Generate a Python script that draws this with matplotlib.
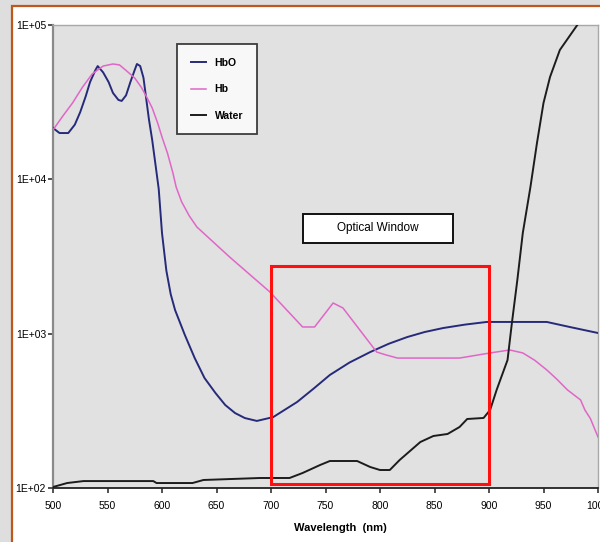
import matplotlib
matplotlib.use("Agg")
import matplotlib.pyplot as plt
from matplotlib.patches import Rectangle
from matplotlib.ticker import FixedLocator, FixedFormatter, NullLocator
import matplotlib.transforms as mtransforms

# ---------------- data ----------------
hbo_nm = [500, 506, 514, 520, 525, 530, 534, 539, 541, 546, 551, 555, 560, 563,
          567, 571, 575, 577, 580, 583, 585, 588, 591, 594, 597, 600, 604, 608,
          612, 621, 630, 639, 649, 658, 667, 676, 687, 702, 724, 739, 754, 772,
          791, 808, 825, 841, 858, 878, 898, 938, 953, 974, 1000]
hbo_val = [21500, 19950, 19950, 22600, 27300, 34500, 42700, 51200, 54200, 49300,
           42700, 36300, 32700, 32200, 35000, 42700, 51200, 55900, 54200, 45500,
           35500, 24500, 18000, 12500, 8650, 4490, 2560, 1800, 1422, 979, 695, 516,
           413, 345, 306, 284, 272, 288, 361, 440, 540, 650, 760, 860, 951, 1025,
           1088, 1145, 1191, 1191, 1191, 1105, 1010]

hb_nm = [500, 509, 518, 527, 536, 546, 555, 561, 567, 575, 581, 586, 591, 596,
         600, 605, 610, 613, 618, 625, 632, 662, 699, 729, 740, 757, 766, 797,
         805, 816, 873, 901, 919, 931, 942, 953, 962, 972, 984, 988, 993, 1000]
hb_val = [20900, 25700, 31300, 39500, 48200, 54200, 55900, 55100, 50800, 45300,
          39500, 34100, 29000, 23200, 18800, 14800, 11000, 8900, 7150, 5800, 4910,
          3140, 1862, 1105, 1105, 1580, 1467, 760, 730, 695, 695, 750, 784, 750,
          672, 582, 509, 432, 372, 320, 282, 214]

water_nm = [500, 513, 528, 592, 595, 628, 638, 690, 717, 729, 745, 754, 779, 791,
            800, 809, 818, 837, 849, 862, 873, 880, 895, 901, 907, 917, 921, 926,
            931, 938, 944, 950, 956, 965, 981]
water_val = [101.5, 107.7, 110.9, 110.9, 107.7, 107.7, 112.7, 116.1, 116.1, 125.1,
             140.9, 149.6, 149.6, 136.8, 130.8, 130.8, 151.8, 198.6, 217.3, 223.9,
             248.5, 280.0, 284.3, 320, 432, 675, 1172, 2228, 4490, 8910, 17180,
             31260, 46060, 68900, 100000]

series_labels = ["HbO", "Hb", "Water"]
x_ticks = [500, 550, 600, 650, 700, 750, 800, 850, 900, 950, 1000]
y_ticks = [1e2, 1e3, 1e4, 1e5]
y_tick_labels = ["1E+02", "1E+03", "1E+04", "1E+05"]
window_nm = [700, 900]
window_label = "Optical Window"
x_label = "Wavelength  (nm)"

# ---------------- figure ----------------
W, H = 600, 542
fig = plt.figure(figsize=(W / 100, H / 100), dpi=100, facecolor="#dedede")

# white panel with orange frame (left & top edges visible)
panel = Rectangle((12 / W, -0.05), 1.2, 1 - 6 / H + 0.05, transform=fig.transFigure,
                  facecolor="white", edgecolor="#c0571a", linewidth=1.6, zorder=-10)
fig.add_artist(panel)

ax = fig.add_axes([53 / W, 1 - 488 / H, 545 / W, 463 / H])
ax.set_zorder(1)
ax.set_facecolor("#e1e1e1")

ax.plot(hbo_nm, hbo_val, color="#262a7a", lw=1.4, label=series_labels[0], zorder=3)
ax.plot(hb_nm, hb_val, color="#e066c8", lw=1.1, label=series_labels[1], zorder=3)
ax.plot(water_nm, water_val, color="#1c1c1c", lw=1.4, label=series_labels[2], zorder=3)

ax.set_yscale("log")
ax.set_xlim(500, 1000)
ax.set_ylim(1e2, 1e5)
ax.xaxis.set_major_locator(FixedLocator(x_ticks))
ax.yaxis.set_major_locator(FixedLocator(y_ticks))
ax.yaxis.set_major_formatter(FixedFormatter(y_tick_labels))
ax.yaxis.set_minor_locator(NullLocator())

ax.tick_params(axis="both", direction="out", length=3.5, width=1.1, color="#222222",
               labelsize=7.5)
ax.tick_params(axis="x", pad=6)
ax.tick_params(axis="y", pad=1.5)
for lab in ax.get_xticklabels() + ax.get_yticklabels():
    lab.set_family(["Liberation Sans", "DejaVu Sans"])

for side, col, lw in [("left", "#8a8a8a", 1.6), ("bottom", "#222222", 1.3),
                      ("top", "#a8a8a8", 1.0), ("right", "#a8a8a8", 1.0)]:
    ax.spines[side].set_color(col)
    ax.spines[side].set_linewidth(lw)

ax.set_xlabel(x_label, fontsize=8, fontweight="bold",
              family=["Liberation Sans", "DejaVu Sans"])
ax.xaxis.set_label_coords((340 - 53) / 545, -0.075)

# red optical window rectangle
trans = mtransforms.blended_transform_factory(ax.transData, ax.transAxes)
ax.add_patch(Rectangle((window_nm[0], 4 / 463), window_nm[1] - window_nm[0],
                       (484 - 266) / 463, transform=trans, fill=False,
                       edgecolor="#ff1010", linewidth=2.2, zorder=4))

# "Optical Window" label box
ax.add_patch(Rectangle(((303 - 53) / 545, (488 - 243) / 463), 150 / 545, 29 / 463,
                       transform=ax.transAxes, facecolor="white", edgecolor="#111111",
                       linewidth=1.4, zorder=5))
ax.text((378 - 53) / 545, (488 - 228.5) / 463, window_label, transform=ax.transAxes,
        ha="center", va="center", fontsize=8.5, zorder=6,
        family=["Liberation Sans", "DejaVu Sans"])

leg = ax.legend(loc="upper left", bbox_to_anchor=((177 - 53) / 545, (488 - 44) / 463),
                borderaxespad=0, frameon=True, fancybox=False,
                prop={"weight": "bold", "family": ["Liberation Sans", "DejaVu Sans"],
                      "size": 7.5},
                handlelength=1.5, handletextpad=0.8, labelspacing=1.6,
                borderpad=1.3)
leg.get_frame().set_edgecolor("#111111")
leg.get_frame().set_linewidth(1.3)
leg.get_frame().set_facecolor("white")
leg.set_zorder(6)

fig.savefig("out.png", dpi=100, facecolor=fig.get_facecolor())
